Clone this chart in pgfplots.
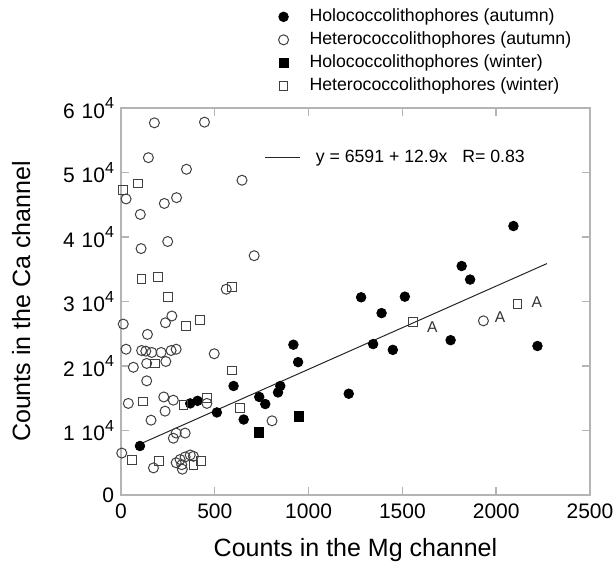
\documentclass[border=0pt]{standalone}
\usepackage{fontspec}
\setmainfont{Liberation Sans}
\usepackage{pgfplots}
\pgfplotsset{compat=1.18}
\definecolor{axgray}{RGB}{180,180,180}
\newcommand{\pw}[1]{\hspace{0.33em}10\raisebox{0.85ex}{\fontsize{8}{9}\selectfont #1}}

\begin{document}
\begin{tikzpicture}
\begin{axis}[
  scale only axis,
  width=234.5pt, height=193.5pt,
  xmin=0, xmax=2500, ymin=0, ymax=60000,
  xtick={0,500,...,2500},
  ytick={0,10000,...,60000},
  yticklabels={0, 1\pw{4}, 2\pw{4}, 3\pw{4}, 4\pw{4}, 5\pw{4}, 6\pw{4}},
  scaled y ticks=false,
  tick pos=both, ticklabel pos=left,
  tick align=inside,
  major tick length=4pt,
  tick style={axgray, line width=0.7pt},
  axis line style={axgray, line width=0.8pt},
  /pgf/number format/assume math mode=true,
  /pgf/number format/1000 sep={},
  tick label style={font=\fontsize{10.5}{12}\selectfont},
  xticklabel style={yshift=-1pt},
  xlabel={Counts in the Mg channel},
  ylabel={Counts in the Ca channel},
  label style={font=\fontsize{12.5}{14}\selectfont},
  xlabel style={at={(axis description cs:0.5,-0.142)}, anchor=center},
  ylabel style={at={(axis description cs:-0.213,0.5)}, anchor=center},
  legend image code/.code={\draw[#1] plot coordinates {(0pt,0pt)}; \path[draw=none] (-3pt,0pt) -- (12pt,0pt);},
  legend style={at={(axis description cs:0.333,1.265)}, anchor=north west,
    draw=none, fill=none, inner sep=0pt, row sep=0.5pt,
    font=\fontsize{8.85}{10}\selectfont,
    nodes={inner sep=1pt, text height=7pt, text depth=2pt}},
  legend cell align=left,
]
% regression line
\addplot[black!85, line width=0.5pt, forget plot] coordinates {(100,7881) (2270,35874)};

% Holococcolithophores (autumn)
\addplot[only marks, mark=*, mark size=2.4pt, black, mark options={fill=black}] coordinates {
(101,7600) (369,14200) (408,14600) (511,12800) (600,16900) (654,11700)
(737,15200) (769,14100) (837,15900) (849,16900) (919,23300) (944,20600)
(1214,15700) (1280,30650) (1344,23400) (1389,28200) (1449,22500) (1513,30750)
(1757,24000) (1816,35500) (1861,33400) (2092,41700) (2220,23100)
};
\addlegendentry{Holococcolithophores (autumn)}

% Heterococcolithophores (autumn)
\addplot[only marks, mark=o, mark size=2.5pt, black!75, mark options={line width=0.5pt}] coordinates {
(178,57700) (445,57800) (146,52300) (349,50500) (645,48800) (27,45900)
(231,45200) (296,46100) (103,43500) (107,38200) (249,39300) (710,37100)
(561,31900) (271,27750) (237,26700) (12,26500) (141,24900)
(27,22600) (110,22400) (132,22300) (164,22100) (214,22100) (267,22400) (294,22600) (497,21900)
(66,19800) (137,20400) (239,20700) (137,17700) (228,15200) (279,14700) (39,14200)
(458,14200) (235,13000) (160,11600) (805,11500) (294,9600) (342,9600) (279,8800)
(4,6500) (173,4200) (294,5000) (315,5500) (342,5900) (369,6200) (386,6000)
(324,4700) (327,4000) (1932,27000)
};
\addlegendentry{Heterococcolithophores (autumn)}

% Holococcolithophores (winter)
\addplot[only marks, mark=square*, mark size=2.3pt, black, mark options={fill=black}] coordinates {
(733,9700) (947,12200)
};
\addlegendentry{Holococcolithophores (winter)}

% Heterococcolithophores (winter)
\addplot[only marks, mark=square, mark size=2.2pt, black!75, mark options={line width=0.5pt}] coordinates {
(9,47300) (89,48300) (109,33500) (198,33800) (249,30700) (591,32200)
(345,26200) (422,27100) (182,20400) (593,19300) (119,14500) (333,14000)
(458,15000) (636,13500) (60,5400) (203,5300) (386,4650) (426,5300)
(1558,26800) (2114,29600)
};
\addlegendentry{Heterococcolithophores (winter)}

% regression key
\draw[black!85, line width=0.5pt] (axis cs:769,52250) -- (axis cs:956,52250);
\node[anchor=west, inner sep=0pt, font=\fontsize{8.85}{10}\selectfont]
  at (axis cs:1036,52250) {y = 6591 + 12.9x \ \ R= 0.83};

% A labels
\node[font=\fontsize{7.8}{9}\selectfont, black!80] at (axis cs:1660,26100) {A};
\node[font=\fontsize{7.8}{9}\selectfont, black!80] at (axis cs:2021,27500) {A};
\node[font=\fontsize{7.8}{9}\selectfont, black!80] at (axis cs:2217,29970) {A};
\end{axis}
\pgfresetboundingbox
\path (-60.5pt,-35.5pt) rectangle (247.5pt,247.5pt);
\end{tikzpicture}
\end{document}
